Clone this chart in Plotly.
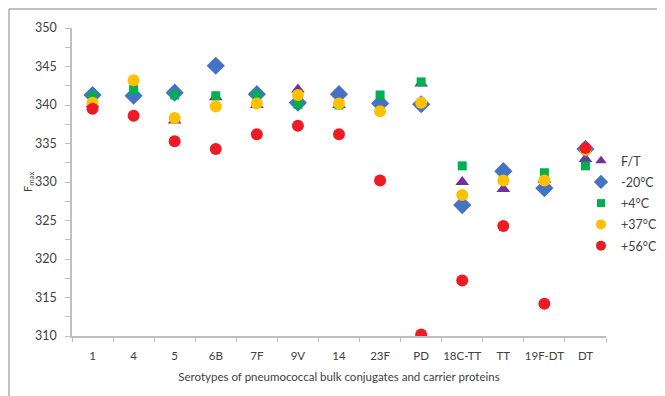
import plotly.graph_objects as go

categories = ["1", "4", "5", "6B", "7F", "9V", "14", "23F", "PD", "18C-TT", "TT", "19F-DT", "DT"]
ft = [340.1, 341.5, 338.0, 341.0, 340.0, 342.0, 340.0, 340.5, 342.8, 330.0, 329.1, 330.3, 333.0]
m20 = [341.3, 341.2, 341.6, 345.1, 341.4, 340.3, 341.4, 340.2, 340.1, 327.0, 331.4, 329.2, 334.3]
p4 = [341.2, 342.0, 341.3, 341.2, 341.3, 340.1, 340.0, 341.3, 343.0, 332.1, 330.2, 331.2, 332.1]
p37 = [340.3, 343.2, 338.3, 339.8, 340.2, 341.3, 340.2, 339.2, 340.3, 328.3, 330.2, 330.2, 334.2]
p56 = [339.5, 338.6, 335.3, 334.3, 336.2, 337.3, 336.2, 330.2, 310.2, 317.2, 324.3, 314.2, 334.4]

series = [
    ("F/T", ft, "triangle-up", "#7030A0", 12, 10),
    ("-20°C", m20, "diamond", "#4472C4", 14, 11),
    ("+4°C", p4, "square", "#00B050", 9, 8),
    ("+37°C", p37, "circle", "#FFC000", 12, 10),
    ("+56°C", p56, "circle", "#ED1C24", 12, 10),
]

fig = go.Figure()
for name, vals, sym, col, sz, lsz in series:
    fig.add_trace(go.Scatter(
        x=categories, y=vals, mode="markers", name=name, showlegend=False,
        marker=dict(symbol=sym, color=col, size=sz, line=dict(width=0)),
    ))
for name, vals, sym, col, sz, lsz in series:
    fig.add_trace(go.Scatter(
        x=[None], y=[None], mode="markers", name=name, showlegend=True, legendgroup=name,
        marker=dict(symbol=sym, color=col, size=lsz, line=dict(width=0)),
    ))

font = "Lato, Open Sans, sans-serif"
OFF = 8  # page body margin
W, H = 665 - OFF, 396 - OFF
L, T = 72 - OFF, 28 - OFF
R = W - (606 - OFF)
B = H - (336 - OFF)
pw = W - L - R
ph = H - T - B

def px2x(p):
    return (p - OFF - L) / pw

def px2y(p):
    return (H - B - (p - OFF)) / ph

fig.update_layout(
    width=W, height=H,
    margin=dict(l=L, r=R, t=T, b=B, autoexpand=False),
    plot_bgcolor="white", paper_bgcolor="white",
    font=dict(family=font, size=11, color="#404040"),
    showlegend=True,
    legend=dict(x=px2x(581), y=px2y(146), xanchor="left", yanchor="top",
                font=dict(size=12.5, color="#404040"), bgcolor="rgba(0,0,0,0)",
                itemwidth=30, tracegroupgap=2),
    xaxis=dict(
        type="category", range=[-0.5, 12.5], showline=True, linecolor="#BFBFBF", linewidth=1.5,
        ticks="outside", ticklen=4, tickcolor="#BFBFBF", tickson="boundaries", tickangle=0,
        automargin=False, ticklabelstandoff=8,
        showgrid=False, zeroline=False, tickfont=dict(size=11.5, color="#404040"),
        title=dict(text="Serotypes of pneumococcal bulk conjugates and carrier proteins",
                   font=dict(size=11.5, color="#404040"), standoff=12),
    ),
    yaxis=dict(
        range=[310, 350], dtick=5, showline=True, linecolor="#BFBFBF", linewidth=1.5,
        ticks="outside", ticklen=5, tickcolor="#BFBFBF", showgrid=False, zeroline=False,
        automargin=False,
        minor=dict(dtick=2.5, ticks="outside", ticklen=5, tickcolor="#BFBFBF", showgrid=False),
        tickfont=dict(size=12.5, color="#404040"), ticklabelstandoff=6,
    ),
    annotations=[
        dict(text="F<sub>max</sub>", xref="paper", yref="paper", x=px2x(28), y=px2y(182),
             textangle=-90, showarrow=False, xanchor="center", yanchor="middle",
             font=dict(size=11, color="#404040")),
    ],
    shapes=[
        dict(type="line", xref="paper", yref="paper", x0=px2x(9), x1=px2x(9), y0=px2y(9), y1=px2y(400),
             line=dict(color="#ADADAD", width=1.5)),
        dict(type="line", xref="paper", yref="paper", x0=px2x(9), x1=px2x(670), y0=px2y(9), y1=px2y(9),
             line=dict(color="#ADADAD", width=1.5)),
    ],
)

fig.write_html("out.html")
